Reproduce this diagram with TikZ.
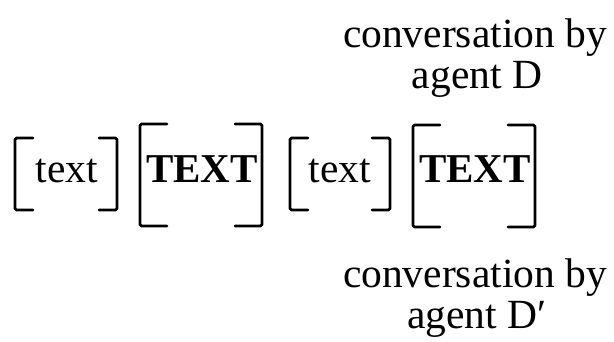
\documentclass[tikz,border=0pt]{standalone}
\usepackage{fontspec}
\setmainfont{Liberation Serif}
\begin{document}
\begin{tikzpicture}[x=1pt,y=-1pt,
  lbl/.style={anchor=base,inner sep=0pt,font=\fontsize{41.5}{42}\selectfont},
  word/.style={lbl},
  bigword/.style={lbl,font=\fontsize{41}{42}\selectfont\bfseries},
  brk/.style={line width=2.8pt,line cap=round,line join=round,rounded corners=1.5pt}]
\useasboundingbox (0,0) rectangle (614,341);

% words inside brackets
\node[word]    (w1) at (67,182)  {text};
\node[bigword] (w2) at (202,182) {TEXT};
\node[word]    (w3) at (340,182) {text};
\node[bigword] (w4) at (475,182) {TEXT};

% small brackets around plain text
\draw[brk] (33,138) -- (15,138) -- (15,210) -- (33,210);
\draw[brk] (99,138) -- (117,138) -- (117,210) -- (99,210);
\draw[brk] (308,138) -- (290,138) -- (290,210) -- (308,210);
\draw[brk] (372,138) -- (390,138) -- (390,210) -- (372,210);

% tall brackets around bold text
\draw[brk] (167,124) -- (140,124) -- (140,226) -- (167,226);
\draw[brk] (235,124) -- (262,124) -- (262,226) -- (235,226);
\draw[brk] (440,125) -- (413,125) -- (413,227) -- (440,227);
\draw[brk] (508,125) -- (535,125) -- (535,227) -- (508,227);

% captions
\node[lbl] (t1) at (475,47)  {conversation by};
\node[lbl] (t2) at (477,88)  {agent D};
\node[lbl] (b1) at (475,287) {conversation by};
\node[lbl] (b2) at (477,328) {agent D′};
\end{tikzpicture}
\end{document}
